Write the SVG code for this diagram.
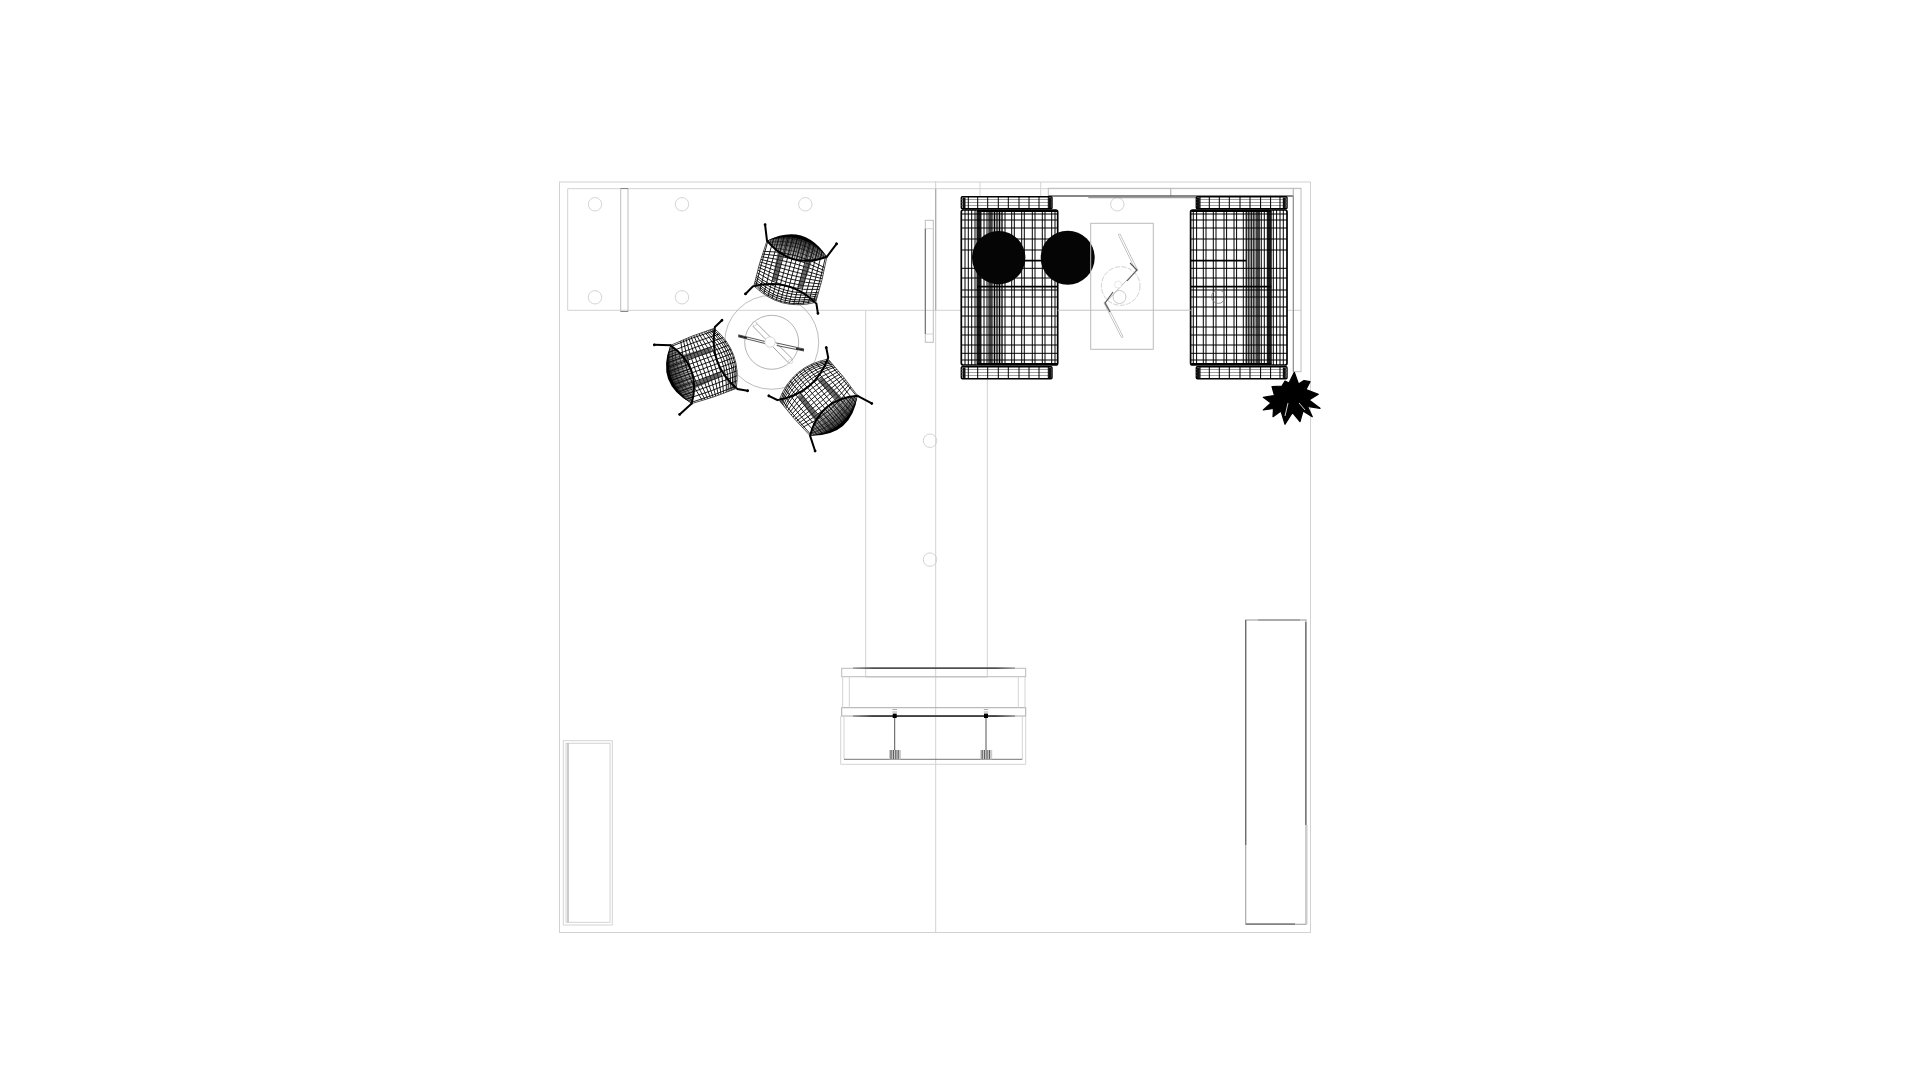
<svg xmlns="http://www.w3.org/2000/svg" width="1920" height="1080" viewBox="0 0 1920 1080">
<style>
.f{fill:none;stroke:#d2d2d2;stroke-width:1}
.g{fill:none;stroke:#bdbdbd;stroke-width:1}
.k{fill:none;stroke:#000;stroke-width:1}
.k2{fill:none;stroke:#000;stroke-width:1.8}
.c{fill:none;stroke:#d4d4d4;stroke-width:1}
.ch{fill:none;stroke:#000;stroke-width:.8}
.ch2{fill:none;stroke:#111;stroke-width:.6}
.lg{fill:none;stroke:#000;stroke-width:2;stroke-linecap:round}
</style>
<defs>
<linearGradient id="backG" gradientUnits="userSpaceOnUse" x1="0" y1="-33" x2="0" y2="-11"><stop offset="0" stop-color="#333"/><stop offset=".5" stop-color="#777"/><stop offset="1" stop-color="#ccc"/></linearGradient>
<linearGradient id="fadeH"><stop offset="0" stop-color="#999"/><stop offset=".12" stop-color="#333"/><stop offset=".88" stop-color="#333"/><stop offset="1" stop-color="#999"/></linearGradient>
<clipPath id="barrel"><path d="M-31 -21Q0 -46 31 -21Q33 2 32 26Q0 44 -32 26Q-33 2 -31 -21Z"/></clipPath>
<clipPath id="lens"><path d="M-31 -21Q0 -46 31 -21Q0 1 -31 -21Z"/></clipPath>
<g id="chairShape">
<path d="M-31 -21Q0 -46 31 -21Q0 1 -31 -21Z" fill="url(#backG)"/>
<g clip-path="url(#barrel)">
<path class="ch" d="M-29.2 -40Q-31.5 2 -29.2 45M-24.7 -40Q-26.5 2 -24.7 45M-20.2 -40Q-21 2 -20.2 45M-15.7 -40V45M-11.2 -40V45M-6.7 -40V45M-2.2 -40V45M2.2 -40V45M6.7 -40V45M11.2 -40V45M15.7 -40V45M20.2 -40Q21 2 20.2 45M24.7 -40Q26.5 2 24.7 45M29.2 -40Q31.5 2 29.2 45"/>
<path class="ch" d="M-34 -9.4Q0 -18.6 34 -9.4M-34 -6.7Q0 -13.3 34 -6.7M-34 -4Q0 -8 34 -4M-34 -1.3Q0 -2.7 34 -1.3M-34 1.3Q0 2.7 34 1.3M-34 4Q0 8 34 4M-34 6.7Q0 13.3 34 6.7M-34 9.4Q0 18.6 34 9.4M-34 12Q0 24 34 12M-34 14.7Q0 29.3 34 14.7M-34 16.5Q0 32.5 34 16.5M-34 18.4Q0 36.4 34 18.4M-34 20.1Q0 39.9 34 20.1M-34 21.5Q0 42.5 34 21.5M-34 22.8Q0 45.2 34 22.8"/>
</g>
<path d="M-15 -14L-13 16M15 -14L13 16" fill="none" stroke="#222" stroke-width="5.5" opacity=".68"/>
<g clip-path="url(#lens)">
<path class="ch2" d="M-30 -40V0M-27.5 -40V0M-25 -40V0M-22.5 -40V0M-20 -40V0M-17.5 -40V0M-15 -40V0M-12.5 -40V0M-10 -40V0M-7.5 -40V0M-5 -40V0M-2.5 -40V0M0 -40V0M2.5 -40V0M5 -40V0M7.5 -40V0M10 -40V0M12.5 -40V0M15 -40V0M17.5 -40V0M20 -40V0M22.5 -40V0M25 -40V0M27.5 -40V0M30 -40V0"/>
<path class="ch2" d="M-34 -20.1Q0 -39.9 34 -20.1M-34 -17.4Q0 -34.6 34 -17.4M-34 -15Q0 -29.5 34 -15M-34 -12Q0 -24 34 -12"/>
</g>
<path class="lg" d="M-37 -36L-31 -21" stroke-width="1.5"/><path class="lg" d="M37 -36L31 -21" stroke-width="1.5"/>
<path d="M-31 -21Q0 -48.5 31 -21Q0 -41.5 -31 -21Z" fill="#000"/>
<path class="lg" d="M-31 -21Q0 1 31 -21"/>
<path class="lg" d="M-38 36L-33 27Q0 8 33 27L37 36"/>
<path d="M-32 26Q-33 2 -31 -21M32 26Q33 2 31 -21M-32 26Q0 44 32 26" fill="none" stroke="#222" stroke-width=".7"/>
<circle cx="-37" cy="-36" r="1.4"/><circle cx="37" cy="-36" r="1.4"/><circle cx="-38" cy="36" r="1.4"/><circle cx="37" cy="36" r="1.4"/>
</g>
<g id="arm">
<rect x="961.3" y="196.7" width="90.7" height="12" rx="1" fill="#fff" stroke="#000" stroke-width="1.4"/>
<path d="M961.3 199.5H1052M961.3 202.5H1052M961.3 205.5H1052" fill="none" stroke="#777" stroke-width=".7"/>
<path class="k" d="M968.3 197V208M977.7 197V208M987.7 197V208M998.3 197V208M1008.3 197V208M1019 197V208M1029 197V208M1039 197V208M1048.3 197V208" stroke-width=".7"/>
<rect x="962.5" y="197.5" width="3" height="10.5" fill="#111"/><rect x="1048.5" y="197.5" width="3" height="10.5" fill="#111"/>
</g>
<g id="sofaShape">
<use href="#arm"/><use href="#arm" y="170"/>
<rect x="961.3" y="210" width="96.4" height="155" rx="2" fill="#fff" stroke="#000" stroke-width="1.7"/>
<path d="M993 212H1003V363H993Z" fill="#000" opacity=".3"/>
<path d="M979 211V364" fill="none" stroke="#000" stroke-width="5" opacity=".9"/>
<path d="M990.5 211V364" fill="none" stroke="#000" stroke-width="4.5" opacity=".75"/>
<path class="k" d="M965 210V365M968.3 210V365M971.7 210V365M975 210V365M984 210V365M987 210V365M994.5 210V365M997 210V365M999.5 210V365M1002 210V365M1005 210V365M1011.7 210V365M1014.3 210V365M1021.7 210V365M1024.3 210V365M1032.3 210V365M1035 210V365M1042.3 210V365M1045 210V365M1051.7 210V365M1055 210V365"/>
<path class="k" d="M961.3 214H1057.7M961.3 220H1057.7M961.3 228H1057.7M961.3 239H1057.7M961.3 250H1057.7M961.3 268.3H1057.7M961.3 278H1057.7M961.3 290H1057.7M961.3 297H1057.7M961.3 307H1057.7M961.3 316H1057.7M961.3 327H1057.7M961.3 335H1057.7M961.3 345H1057.7M961.3 353.3H1057.7M961.3 360H1057.7"/>
<path class="k2" d="M1002 260.7H1057.7M977 286.7H1057.7M977 211H1057M977 364H1057"/>
</g>
</defs>
<rect width="1920" height="1080" fill="#fff"/>

<g id="floor">
<rect class="f" x="559.5" y="182" width="751" height="750.5"/>
<path class="f" d="M935.7 181V932.5M567.7 188.7H1301M567.7 188.7V310.3M567.7 310.3H1301M865.7 310.3V677M987.3 378V677M865.7 677H987.3"/>
<path d="M935.7 188.7V310.3" fill="none" stroke="#aaa" stroke-width="1.2"/>
<path class="c" d="M980 182V196M1040.7 182V196"/>
</g>

<g id="floor-circles">
<circle class="c" cx="595" cy="204.3" r="6.7"/><circle class="c" cx="682" cy="204.3" r="6.7"/><circle class="c" cx="805.3" cy="204.3" r="6.7"/><circle class="c" cx="595" cy="297.3" r="6.7"/><circle class="c" cx="682" cy="297.3" r="6.7"/><circle class="c" cx="930" cy="440.7" r="6.7"/><circle class="c" cx="930" cy="559.6" r="6.7"/><circle class="c" cx="1117.3" cy="204.3" r="6.7"/>
</g>

<g id="post"><rect class="g" x="620.7" y="188.5" width="7.3" height="123"/><path d="M620.7 188.5H628M620.7 311.5H628" stroke="#888" fill="none"/></g>

<g id="panel">
<rect class="g" x="925.3" y="220.3" width="8" height="122"/>
<path class="c" d="M925.3 228.7H933.3M925.3 334H933.3"/>
<path d="M925.3 228.7V334" fill="none" stroke="#666" stroke-width="1"/>
</g>

<g id="table">
<circle class="g" cx="771.7" cy="342.3" r="47"/>
<circle fill="none" stroke="#aaa" stroke-width=".9" cx="771.7" cy="342.3" r="27"/>
<path d="M756 322.7L792.7 359.3M752.7 326L788.3 362.7" fill="none" stroke="#999" stroke-width=".9"/>
<circle cx="754.5" cy="323.5" r="2.2" fill="none" stroke="#ccc" stroke-width=".7"/><circle cx="790.5" cy="361.5" r="2.2" fill="none" stroke="#ccc" stroke-width=".7"/>
<path d="M738.3 334.8L765 341.5M738.3 336.8L765 343.5M776.7 343L804 349M776.7 345.5L804 351" fill="none" stroke="#444" stroke-width=".9"/>
<path d="M738.3 335.8L747 338M796 348.5L804 350" fill="none" stroke="#222" stroke-width="1.6"/>
<circle cx="770" cy="342" r="5.2" fill="#fff" stroke="#ccc" stroke-width=".8"/>
</g>

<g id="chair-1"><use href="#chairShape" transform="translate(791.5 269) rotate(15)"/></g>
<g id="chair-2"><use href="#chairShape" transform="translate(700.8 367.3) rotate(-110)"/></g>
<g id="chair-3"><use href="#chairShape" transform="translate(820.3 399.6) rotate(140)"/></g>

<g id="shelf">
<rect class="g" x="1048.3" y="188.3" width="122.4" height="7.7"/>
<rect class="g" x="1170.7" y="188.3" width="122.6" height="7.7"/>
<path d="M1048.3 196H1293.3" stroke="#333" stroke-width="1.1" fill="none"/>
<path d="M1088.3 197.7H1196.7" stroke="#888" stroke-width="1" fill="none"/>
<rect class="g" x="1293.3" y="188.3" width="7.7" height="183.4"/>
<path d="M1293.3 196V371.7" stroke="#888" fill="none"/>
</g>

<g id="sofa-left"><use href="#sofaShape"/></g>
<g id="sofa-right"><use href="#sofaShape" transform="translate(2248.3 0) scale(-1 1)"/></g>

<g id="floor-over"><path d="M1057.7 310.3H1190.7" class="f"/><circle cx="1218.3" cy="296.7" r="6.7" fill="none" stroke="#777" stroke-width=".8"/></g>

<g id="ottoman-1"><circle cx="998.7" cy="257.7" r="26.7" fill="#050505"/></g>
<g id="ottoman-2"><circle cx="1067.7" cy="257.7" r="27" fill="#050505"/></g>

<g id="side-table">
<rect x="1090.7" y="223.3" width="62.6" height="126" fill="none" stroke="#bbb" stroke-width="1"/>
<circle cx="1120.7" cy="286" r="19.3" fill="none" stroke="#ccc" stroke-width=".9" stroke-dasharray="5 1.5"/>
<circle cx="1119.5" cy="297" r="6.5" fill="#fff" stroke="#bbb" stroke-width=".8"/>
<path d="M1119.5 235L1136.5 270M1122 336.5L1105 303" fill="none" stroke="#b5b5b5" stroke-width="2.6" stroke-linecap="round"/>
<path d="M1119.5 235L1136.5 270M1122 336.5L1105 303" fill="none" stroke="#fff" stroke-width="1.2" stroke-linecap="round"/>
<path d="M1136.5 270L1105 303" fill="none" stroke="#bbb" stroke-width="1"/>
<path d="M1130 263L1137 270L1127 281M1113 292L1105 303L1110 312" fill="none" stroke="#555" stroke-width="1.1"/>
<circle cx="1118" cy="284.5" r="3.5" fill="#fff" stroke="#ddd" stroke-width=".7"/>
</g>

<g id="plant"><path d="M1294.3 372.3L1298.5 384L1304 380.5L1310 381.7L1306 389.5L1318.3 394.3L1309 400L1320 408.3L1307.5 406.5L1312.3 416.7L1303 411L1300 421.7L1292.5 412.5L1285 424.3L1281 411L1273 416.7L1273.5 408.5L1263.3 410L1271 403L1263.3 397.3L1274.5 395.5L1272 386.7L1282 386L1285 381L1289 383Z" fill="#000" stroke="#000" stroke-width="1.2" stroke-linejoin="round"/><path d="M1288 403L1285 416M1299 403L1305 410" stroke="#fff" stroke-width=".8" fill="none"/></g>

<g id="stage">
<rect x="841.7" y="668.3" width="184" height="8.4" fill="none" stroke="#bbb"/>
<rect x="841.7" y="707.7" width="184" height="8.3" fill="none" stroke="#aaa"/>
<path d="M842.7 676.7V707.7M849.3 676.7V707.7M1018.3 676.7V707.7M1025 676.7V707.7M840.7 716V764.3H1025.7V716M844 716V759.3M1022.3 716V759.3" class="c"/>
<rect x="853" y="667.4" width="162" height="1.4" fill="url(#fadeH)"/>
<rect x="853" y="715.2" width="162" height="1.7" fill="url(#fadeH)"/>
<path d="M844 759.3H1022.3" fill="none" stroke="#666" stroke-width=".9"/>
<path d="M894.7 716V750M986 716V750" fill="none" stroke="#555" stroke-width="1"/>
<rect x="892.7" y="713.6" width="4" height="4.4" fill="#000"/><rect x="984" y="713.6" width="4" height="4.4" fill="#000"/>
<path d="M892.5 709.5H897M892.5 712H897M983.8 709.5H988.2M983.8 712H988.2" stroke="#999" fill="none" stroke-width=".8"/>
<rect x="889" y="750" width="12" height="9.3" fill="#ccc"/><rect x="980.2" y="750" width="12" height="9.3" fill="#ccc"/>
<path d="M891 750V759M893.4 750V759M895.8 750V759M898.2 750V759M982.2 750V759M984.6 750V759M987 750V759M989.4 750V759" stroke="#333" stroke-width=".8" fill="none"/>
</g>

<g id="bar-left">
<rect class="c" x="563.3" y="740.7" width="49" height="184.3"/>
<rect class="c" x="566" y="743.3" width="44" height="179"/>
<path d="M568 743.3V922.3" stroke="#999" stroke-width="1" fill="none"/>
</g>

<g id="bar-right">
<rect x="1245.7" y="620" width="60.3" height="304.3" fill="none" stroke="#aaa" stroke-width="1.2"/>
<path d="M1245.7 620V845M1305.8 622V825" fill="none" stroke="#666" stroke-width="1.2"/>
<path d="M1307 825V924" fill="none" stroke="#ccc" stroke-width="1"/>
<path d="M1246 924H1295" fill="none" stroke="#555" stroke-width="1.2"/>
<path d="M1258 620H1300" fill="none" stroke="#888" stroke-width="1"/>
</g>
</svg>
